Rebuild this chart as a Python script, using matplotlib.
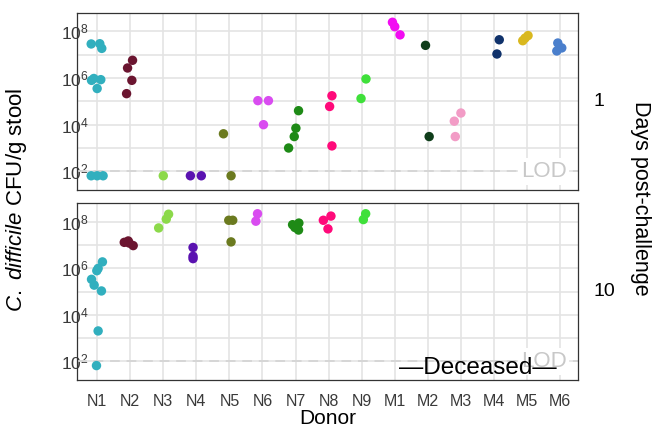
import matplotlib
matplotlib.use("Agg")
import matplotlib.pyplot as plt
from matplotlib.ticker import FixedLocator, NullFormatter
import numpy as np

plt.rcParams["font.family"] = ["Liberation Sans", "DejaVu Sans"]
plt.rcParams["mathtext.fontset"] = "custom"
plt.rcParams["mathtext.rm"] = "Liberation Sans"
plt.rcParams["mathtext.it"] = "Liberation Sans:italic"

DONORS = ["N1", "N2", "N3", "N4", "N5", "N6", "N7", "N8", "N9",
          "M1", "M2", "M3", "M4", "M5", "M6"]
COLORS = ["#31afbe", "#6b1530", "#8cd94a", "#5a12b0", "#6b7a1f", "#d94cf0",
          "#1e8a16", "#ff0a7a", "#3fe03a", "#f20cf2", "#0f3d1a", "#f29cc6",
          "#10326b", "#d9b81f", "#4a7fcc"]
LOD = 100

# day 1: donor, horizontal jitter, log10 CFU/g
day1_donor = ["N1"] * 10 + ["N2"] * 4 + ["N3"] + ["N4"] * 2 + ["N5"] * 2 + ["N6"] * 3 + \
             ["N7"] * 4 + ["N8"] * 3 + ["N9"] * 2 + ["M1"] * 3 + ["M2"] * 2 + ["M3"] * 3 + \
             ["M4"] * 2 + ["M5"] * 3 + ["M6"] * 3
day1_jitter = [-0.18, 0.08, 0.14, -0.17, -0.10, 0.11, 0.0, -0.18, 0.0, 0.18,
               0.07, -0.08, 0.05, -0.11,
               0.0,
               -0.18, 0.15,
               -0.18, 0.05,
               -0.14, 0.18, 0.03,
               0.09, 0.01, -0.04, -0.21,
               0.10, 0.03, 0.10,
               0.13, -0.02,
               -0.07, 0.0, 0.16,
               -0.07, 0.04,
               0.0, -0.20, -0.17,
               0.16, 0.09,
               -0.13, -0.06, 0.03,
               -0.07, -0.10, 0.05]
day1_log = [7.46, 7.47, 7.27, 5.90, 5.98, 5.93, 5.55, 1.81, 1.81, 1.81,
            6.76, 6.43, 5.90, 5.33,
            1.81,
            1.81, 1.81,
            3.61, 1.81,
            5.03, 5.03, 4.00,
            4.60, 3.85, 3.49, 3.00,
            5.24, 4.78, 3.09,
            5.96, 5.12,
            8.39, 8.20, 7.85,
            7.40, 3.49,
            4.50, 4.15, 3.49,
            7.64, 7.03,
            7.60, 7.71, 7.82,
            7.50, 7.16, 7.29]

# day 10
day10_donor = ["N1"] * 8 + ["N2"] * 4 + ["N3"] * 3 + ["N4"] * 3 + ["N5"] * 3 + \
              ["N6"] * 2 + ["N7"] * 4 + ["N8"] * 3 + ["N9"] * 2
day10_jitter = [0.16, 0.03, -0.01, -0.17, -0.09, 0.13, 0.03, -0.02,
                -0.18, -0.06, -0.03, 0.09,
                0.16, 0.09, -0.14,
                -0.10, -0.10, -0.10,
                -0.02, 0.10, 0.05,
                -0.15, -0.20,
                -0.09, 0.10, 0.09, -0.02,
                0.07, -0.16, -0.02,
                0.12, 0.05]
day10_log = [6.28, 6.00, 5.90, 5.53, 5.28, 5.03, 3.31, 1.82,
             7.12, 7.18, 7.09, 6.98,
             8.33, 8.12, 7.74,
             6.90, 6.52, 6.42,
             8.07, 8.07, 7.14,
             8.35, 8.03,
             7.88, 7.95, 7.65, 7.76,
             8.25, 8.07, 7.70,
             8.35, 8.10]
deceased = ["M1", "M2", "M3", "M4", "M5", "M6"]
ytick_exp = [2, 4, 6, 8]

W, H = 655, 430
fig = plt.figure(figsize=(W / 100, H / 100), dpi=100)
ax1 = fig.add_axes([77.3 / W, 1 - 190 / H, 501 / W, 177.3 / H])
ax2 = fig.add_axes([77.3 / W, 1 - 380 / H, 501 / W, 176.7 / H])

pos = {d: i for i, d in enumerate(DONORS)}
col = dict(zip(DONORS, COLORS))


def panel(ax, donors, jit, logs, label):
    ax.set_yscale("log")
    ax.set_xlim(-0.6, 14.55)
    ax.set_ylim(10 ** 1.2, 10 ** 8.8)
    ax.yaxis.set_major_locator(FixedLocator([10.0 ** e for e in ytick_exp]))
    ax.yaxis.set_minor_locator(FixedLocator([1e3, 1e5, 1e7]))
    ax.yaxis.set_minor_formatter(NullFormatter())
    ax.set_yticklabels([r"$\mathregular{10^{%d}}$" % e for e in ytick_exp])
    ax.set_xticks(range(len(DONORS)))
    ax.set_xticklabels(DONORS)
    ax.grid(True, which="both", color="#e4e4e4", lw=1.2)
    ax.set_axisbelow(True)
    ax.tick_params(which="both", length=0, labelsize=11.5, colors="#3a3a3a")
    ax.tick_params(axis="y", pad=-8, labelsize=12.5)
    ax.tick_params(axis="x", pad=10)
    for s in ax.spines.values():
        s.set_color("#333333")
        s.set_linewidth(0.9)
    ax.axhline(LOD, color="#d6d6d6", lw=1.4, ls=(0, (5, 3.5)), zorder=1)
    ax.text(14.2, LOD, "LOD", ha="right", va="center", fontsize=16, color="#c8c8c8",
            bbox=dict(facecolor="white", edgecolor="none", pad=2), zorder=2)
    x = [pos[d] + j for d, j in zip(donors, jit)]
    y = [10 ** v for v in logs]
    c = [col[d] for d in donors]
    ax.scatter(x, y, s=46, c=c, edgecolors="none", zorder=3)
    ax.text(1.03, 0.5, label, transform=ax.transAxes, ha="left", va="center", fontsize=14)


panel(ax1, day1_donor, day1_jitter, day1_log, "1")
panel(ax2, day10_donor, day10_jitter, day10_log, "10")
ax1.tick_params(axis="x", labelbottom=False)

xd = np.mean([pos[d] for d in deceased])
ax2.text(xd, 10 ** 1.7, "—Deceased—", ha="center", va="center", fontsize=17.5, color="black", zorder=4)

ax2.set_xlabel("Donor", fontsize=15, labelpad=0)
fig.text(17 / W, 1 - 200 / H, r"$\mathit{C.\ difficile}$ CFU/g stool", rotation=90,
         ha="center", va="center", fontsize=16)
fig.text(641 / W, 1 - 198 / H, "Days post-challenge", rotation=270,
         ha="center", va="center", fontsize=15.5)

fig.savefig("out.png", dpi=100)
